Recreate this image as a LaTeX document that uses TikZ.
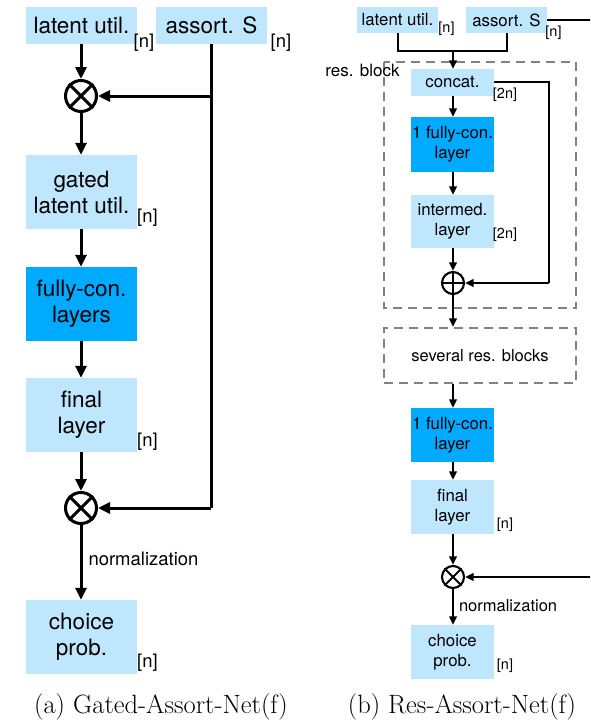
\documentclass[tikz,border=0pt]{standalone}
\usepackage{fontspec}
\setsansfont{TeX Gyre Heros}
\usetikzlibrary{arrows.meta}
\definecolor{lightbox}{RGB}{190,230,252}
\definecolor{darkbox}{RGB}{0,170,255}
\definecolor{dashgray}{RGB}{130,130,130}
\begin{document}
\begin{tikzpicture}[x=1pt,y=-1pt,
  lbox/.style={fill=lightbox, inner sep=0pt, align=center, font=\sffamily\fontsize{22.5}{26}\selectfont, minimum width=111pt},
  lboxd/.style={lbox, fill=darkbox},
  rbox/.style={fill=lightbox, inner sep=0pt, align=center, font=\sffamily\fontsize{16.8}{20}\selectfont, minimum width=83pt},
  rboxd/.style={rbox, fill=darkbox},
  ldim/.style={font=\sffamily\fontsize{18.5}{20}\selectfont, inner sep=0pt},
  rdim/.style={font=\sffamily\fontsize{14.5}{16}\selectfont, inner sep=0pt},
  lop/.style={circle, draw, line width=3pt, minimum size=31pt, inner sep=0pt},
  rop/.style={circle, draw, line width=2.1pt, minimum size=22pt, inner sep=0pt},
  larr/.style={line width=3pt, -{Triangle[length=12pt,width=11pt]}},
  lline/.style={line width=3pt},
  rarr/.style={line width=2.1pt, -{Triangle[length=8.5pt,width=7.5pt]}},
  rline/.style={line width=2.1pt},
  dbox/.style={draw=dashgray, line width=2.3pt, dash pattern=on 9pt off 6pt},
  caption/.style={font=\fontsize{26.5}{30}\selectfont, inner sep=0pt}
]
\useasboundingbox (0,0) rectangle (590,720);
\clip (0,0) rectangle (590,720);

% ---------------- left panel ----------------
\node[lbox, minimum height=37pt] (lu) at (81.5,25.5) {latent util.};
\node[lbox, minimum height=37pt] (as) at (211.5,25.5) {assort. S};
\node[ldim] (lun) at (144,43) {[n]};
\node[ldim] (asn) at (281,43) {[n]};
\node[lop] (ox1) at (81,96) {};
\draw[lline] (ox1.north west) -- (ox1.south east) (ox1.north east) -- (ox1.south west);
\node[lbox, minimum height=74pt] (gl) at (81.5,192) {gated\\latent util.};
\node[ldim] (gln) at (147.5,218) {[n]};
\node[lboxd, minimum height=74pt] (fc) at (81.5,304) {fully-con.\\layers};
\node[lbox, minimum height=74pt] (fl) at (81.5,415) {final\\layer};
\node[ldim] (fln) at (147.5,442) {[n]};
\node[lop] (ox2) at (81,508) {};
\draw[lline] (ox2.north west) -- (ox2.south east) (ox2.north east) -- (ox2.south west);
\node[lbox, minimum height=74pt] (cp) at (81.5,637) {choice\\prob.};
\node[ldim] (cpn) at (147.5,663) {[n]};
\coordinate (j1) at (211,96);
\coordinate (j2) at (211,508);

\draw[larr] (lu.south -| ox1) -- (ox1.north);
\draw[lline] (as.south -| j1) -- (j2);
\draw[larr] (j1) -- (ox1.east);
\draw[larr] (j2) -- (ox2.east);
\draw[larr] (ox1.south) -- (gl.north -| ox1);
\draw[larr] (gl.south -| ox1) -- (fc.north -| ox1);
\draw[larr] (fc.south -| ox1) -- (fl.north -| ox1);
\draw[larr] (fl.south -| ox1) -- (ox2.north);
\draw[larr] (ox2.south) -- node[right=6pt, pos=0.45, font=\sffamily\fontsize{18.5}{20}\selectfont, inner sep=0pt] {normalization} (cp.north -| ox2);

\node[caption] (capa) at (161,707) {(a) Gated-Assort-Net(f)};

% ---------------- right panel ----------------
\draw[dbox] (384,62) rectangle (576,308);
\node[font=\sffamily\fontsize{17}{18}\selectfont, inner sep=0pt] (rbl) at (362.5,70) {res. block};
\node[dbox, minimum width=192pt, minimum height=55pt, inner sep=0pt, font=\sffamily\fontsize{16.5}{18}\selectfont] (sev) at (480,355.5) {several res. blocks};

\node[rbox, minimum width=81pt, minimum height=26pt] (lu2) at (397.5,20) {latent util.};
\node[rbox, minimum width=81pt, minimum height=26pt] (as2) at (506.5,20) {assort. S};
\node[rdim] (lu2n) at (446.5,29) {[n]};
\node[rdim] (as2n) at (553.5,33) {[n]};
\node[rbox, minimum height=27pt] (cc) at (452.5,82.5) {concat.};
\node[rdim] (ccn) at (505,95) {[2n]};
\node[rboxd, minimum height=55pt] (fc1) at (452.5,144.5) {1 fully-con.\\layer};
\node[rbox, minimum height=53pt] (im) at (452.5,221.5) {intermed.\\layer};
\node[rdim] (imn) at (505,235) {[2n]};
\node[rop] (op) at (453,283) {};
\draw[rline] (op.north) -- (op.south) (op.west) -- (op.east);
\node[rboxd, minimum height=54pt] (fc2) at (452.5,435) {1 fully-con.\\layer};
\node[rbox, minimum height=54pt] (fl2) at (452.5,507) {final\\layer};
\node[rdim] (fl2n) at (505,525) {[n]};
\node[rop] (ot) at (453,577) {};
\draw[rline] (ot.north west) -- (ot.south east) (ot.north east) -- (ot.south west);
\node[rbox, minimum height=54pt] (cp2) at (452.5,652) {choice\\prob.};
\node[rdim] (cp2n) at (505,666) {[n]};

\coordinate (m) at (453,51);
\coordinate (k1) at (549,82);
\coordinate (k2) at (549,283);
\coordinate (e1) at (594,20);
\coordinate (e2) at (594,577);

\draw[rline] (lu2.south -| 398,0) |- (m) -| (as2.south -| 507,0);
\draw[rarr] (m) -- (cc.north -| m);
\draw[rline] (cc.east |- k1) -- (k1) -- (k2);
\draw[rarr] (k2) -- (op.east);
\draw[rarr] (cc.south -| op) -- (fc1.north -| op);
\draw[rarr] (fc1.south -| op) -- (im.north -| op);
\draw[rarr] (im.south -| op) -- (op.north);
\draw[rarr] (op.south) -- (sev.north -| op);
\draw[rarr] (sev.south -| op) -- (fc2.north -| op);
\draw[rarr] (fc2.south -| op) -- (fl2.north -| op);
\draw[rarr] (fl2.south -| op) -- (ot.north);
\draw[rline] (as2.east) -- (e1) -- (e2);
\draw[rarr] (e2) -- (ot.east);
\draw[rarr] (ot.south) -- node[right=5pt, pos=0.45, font=\sffamily\fontsize{16.5}{18}\selectfont, inner sep=0pt] {normalization} (cp2.north -| ot);

\node[caption] (capb) at (462,707) {(b) Res-Assort-Net(f)};
\end{tikzpicture}
\end{document}
